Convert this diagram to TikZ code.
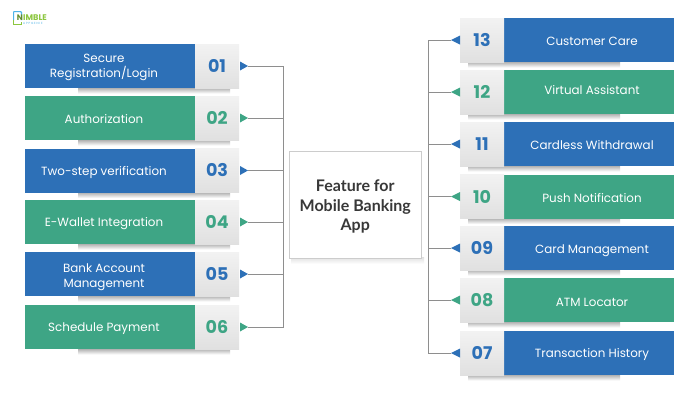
\documentclass[tikz,border=0pt]{standalone}
\usepackage{fontspec}
\setmainfont{Poppins}
\newfontfamily\titlefont{Lato}
\usetikzlibrary{calc}
\definecolor{bblue}{HTML}{2D70B7}
\definecolor{bgreen}{HTML}{3EA585}
\definecolor{linegray}{HTML}{8E8E8E}
\definecolor{logogreen}{HTML}{8CC63F}
\definecolor{logoblue}{HTML}{4FB3E8}
\tikzset{
  x=1pt,y=-1pt,
  colorbox/.style={draw=none,inner sep=0pt,minimum width=170pt,minimum height=44pt},
  numbox/.style={inner sep=0pt,minimum width=44pt,minimum height=44pt,top color=white!95!black,bottom color=white!88!black},
  labeltext/.style={text=white,font=\fontsize{11.9}{14.5}\selectfont,align=center,inner sep=0pt},
  numtext/.style={font=\fontsize{17.5}{18}\selectfont\bfseries,inner sep=0pt},
  wire/.style={draw=linegray,line width=0.9pt},
  dropshadow/.style={draw=none,top color=black!30,bottom color=white},
}
\newcommand{\leftrow}[6]{% id, y, colour, number, label, labely offset
  \shade[dropshadow] (78,#2+22) rectangle (230,#2+27.5);
  \node[colorbox,fill=#3] (c#1) at (110,#2) {};
  \node[numbox] (n#1) at (217,#2) {};
  \node[labeltext] (l#1) at (104,#2+#6+1.5) {#5};
  \node[numtext,text=#3] (t#1) at (217,#2) {#4};
  \fill[#3] (240,#2-4.5) -- (248,#2) -- (240,#2+4.5) -- cycle;
  \coordinate (a#1) at (248,#2);
}
\newcommand{\rightrow}[6]{%
  \shade[dropshadow] (468,#2+22) rectangle (620,#2+27.5);
  \node[colorbox,fill=#3] (c#1) at (589,#2) {};
  \node[numbox] (n#1) at (482,#2) {};
  \node[labeltext] (l#1) at (592,#2+#6+1.5) {#5};
  \node[numtext,text=#3] (t#1) at (482,#2) {#4};
  \fill[#3] (460,#2-4.5) -- (451,#2) -- (460,#2+4.5) -- cycle;
  \coordinate (a#1) at (451,#2);
}
\begin{document}
\begin{tikzpicture}
\useasboundingbox (0,0) rectangle (700,400);
\fill[white] (0,0) rectangle (700,400);
% logo
\draw[logoblue,line width=1.2pt,rounded corners=0.8pt] (13.6,11.6) -- (21.5,11.6) -- (21.5,20) (13.6,20) -- (13.6,11.6);
\draw[logogreen,line width=1.2pt] (13.6,20) -- (13.6,24.6) -- (21.5,24.6) -- (21.5,22);
\node[inner sep=0pt,text=logogreen!70!black,font=\fontsize{8}{8}\selectfont\bfseries] (logoinitial) at (20,17.5) {N};
\node[inner sep=0pt,anchor=west,text=logogreen,font=\fontsize{8.2}{8}\selectfont\bfseries] (logoname) at (23,17.5) {IMBLE};
\node[inner sep=0pt,anchor=west,text=logoblue,font=\fontsize{3}{3}\selectfont] (logosub) at (23,23.3) {A P P G E N I E};
% rows
\leftrow{1}{66}{bblue}{01}{Secure\\Registration/Login}{0}
\leftrow{2}{118}{bgreen}{02}{Authorization}{0}
\leftrow{3}{170.5}{bblue}{03}{Two-step verification}{0}
\leftrow{4}{222}{bgreen}{04}{E-Wallet Integration}{0}
\leftrow{5}{274}{bblue}{05}{Bank Account\\Management}{1.5}
\leftrow{6}{327}{bgreen}{06}{Schedule Payment}{0}
\rightrow{13}{40}{bblue}{13}{Customer Care}{0}
\rightrow{12}{92}{bgreen}{12}{Virtual Assistant}{-3}
\rightrow{11}{144}{bblue}{11}{Cardless Withdrawal}{0}
\rightrow{10}{196.5}{bgreen}{10}{Push Notification}{-0.5}
\rightrow{9}{248}{bblue}{09}{Card Management}{1}
\rightrow{8}{300}{bgreen}{08}{ATM Locator}{0.5}
\rightrow{7}{353}{bblue}{07}{Transaction History}{0}
% wires
\coordinate (ltrunk) at (283.5,66);
\coordinate (rtrunk) at (428,40);
\foreach \i in {1,...,6}{\draw[wire] (a\i) -| (ltrunk);}
\foreach \i in {7,...,13}{\draw[wire] (a\i) -| (rtrunk);}
% centre
\shade[draw=none,top color=black!12,bottom color=white] (291,257) rectangle (424,264);
\node[draw=black!20,fill=white,line width=0.7pt,minimum width=132pt,minimum height=107pt,inner sep=0pt] (centre) at (355.25,204.5) {};
\node[inner sep=0pt,align=center,text=black!78,font=\titlefont\fontsize{16}{19.5}\selectfont\bfseries] (centretext) at (355.25,206.5) {Feature for\\Mobile Banking\\App};
\end{tikzpicture}
\end{document}
